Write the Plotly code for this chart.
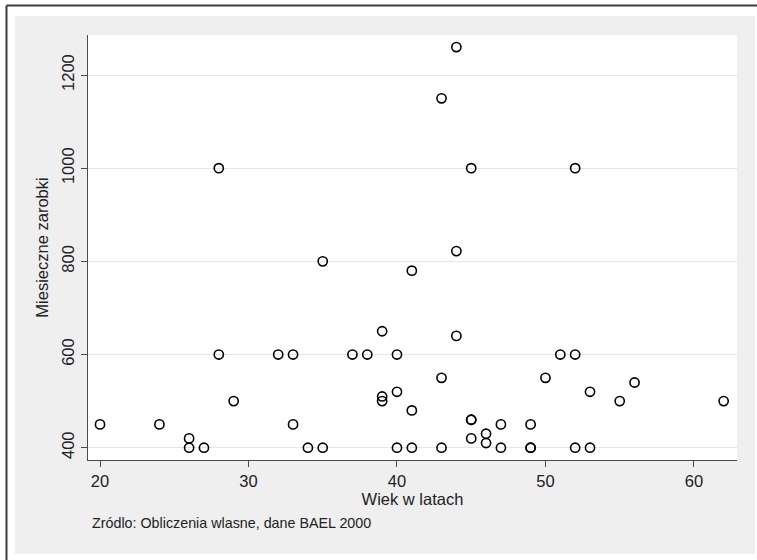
import plotly.graph_objects as go

# Data
wiek = [20, 24, 26, 26, 27, 28, 28, 29, 32, 33, 33, 34, 35, 35, 37, 38,
        39, 39, 39, 40, 40, 40, 41, 41, 41, 43, 43, 43, 44, 44, 44,
        45, 45, 45, 45, 46, 46, 47, 47, 49, 49, 49, 50, 51, 52, 52, 52,
        53, 53, 55, 56, 62]
zarobki = [450, 450, 420, 400, 400, 1000, 600, 500, 600, 600, 450, 400, 800, 400, 600, 600,
           650, 510, 500, 600, 520, 400, 780, 480, 400, 1150, 550, 400, 1260, 822, 640,
           1000, 460, 460, 420, 430, 410, 450, 400, 450, 400, 400, 550, 600, 1000, 600, 400,
           520, 400, 500, 540, 500]

x_ticks = [20, 30, 40, 50, 60]
y_ticks = [400, 600, 800, 1000, 1200]

W, H = 757, 560
ML, MR, MT, MB = 88, 20, 35, 100
PW, PH = W - ML - MR, H - MT - MB


def px(xp):
    return (xp - ML) / PW


def py(yp):
    return (H - MB - yp) / PH


FONT = "Liberation Sans, Arial, Helvetica, sans-serif"
AX = "#4a4a4a"
TXT = "#222222"
FS = 16.5

fig = go.Figure()
fig.add_trace(go.Scatter(
    x=wiek, y=zarobki, mode="markers",
    marker=dict(symbol="circle-open", size=9.2, color="black",
                line=dict(width=1.6, color="black")),
    showlegend=False, hoverinfo="x+y"))

fig.update_layout(
    width=W, height=H,
    margin=dict(l=ML, r=MR, t=MT, b=MB, pad=0),
    paper_bgcolor="#efefef",
    plot_bgcolor="white",
    font=dict(family=FONT, color=TXT, size=FS),
    xaxis=dict(range=[19.19, 62.9], tickvals=x_ticks, showgrid=False,
               zeroline=False, showline=True, linecolor=AX, linewidth=1.2,
               ticks="outside", ticklen=6, tickcolor=AX, tickwidth=1,
               tickfont=dict(size=FS, family=FONT, color=TXT),
               title=dict(text="Wiek w latach", standoff=4,
                          font=dict(size=FS, family=FONT, color=TXT))),
    yaxis=dict(range=[373.6, 1285.9], tickvals=y_ticks, showgrid=True,
               gridcolor="#e6e6e6", gridwidth=1.2,
               zeroline=False, showline=True, linecolor=AX, linewidth=1.2,
               ticks="outside", ticklen=6, tickcolor=AX, tickwidth=1,
               tickangle=-90,
               tickfont=dict(size=FS, family=FONT, color=TXT),
               title=dict(text="Miesieczne zarobki", standoff=6,
                          font=dict(size=FS, family=FONT, color=TXT))),
    shapes=[
        # white frame around the gray graph region
        dict(type="rect", xref="paper", yref="paper", x0=px(0), x1=px(15), y0=py(H), y1=py(0),
             fillcolor="white", line=dict(width=0), layer="above"),
        dict(type="rect", xref="paper", yref="paper", x0=px(0), x1=px(W), y0=py(16), y1=py(0),
             fillcolor="white", line=dict(width=0), layer="above"),
        dict(type="rect", xref="paper", yref="paper", x0=px(755), x1=px(W), y0=py(H), y1=py(0),
             fillcolor="white", line=dict(width=0), layer="above"),
        dict(type="rect", xref="paper", yref="paper", x0=px(0), x1=px(W), y0=py(H), y1=py(554),
             fillcolor="white", line=dict(width=0), layer="above"),
        # dark border lines (left and top)
        dict(type="line", xref="paper", yref="paper", x0=px(6.5), x1=px(6.5), y0=py(H), y1=py(5.5),
             line=dict(color="#3c3c3c", width=2), layer="above"),
        dict(type="line", xref="paper", yref="paper", x0=px(6.5), x1=px(W), y0=py(5.5), y1=py(5.5),
             line=dict(color="#3c3c3c", width=2), layer="above"),
    ],
    annotations=[
        dict(text="Zródlo: Obliczenia wlasne, dane BAEL 2000", xref="paper", yref="paper",
             x=px(90), y=py(523), xanchor="left", yanchor="middle", showarrow=False,
             font=dict(size=14.3, family=FONT, color=TXT)),
    ],
)

fig.write_html("out.html", config={"displayModeBar": False},
               post_script="document.body.style.margin='0';document.body.style.overflow='hidden';")
